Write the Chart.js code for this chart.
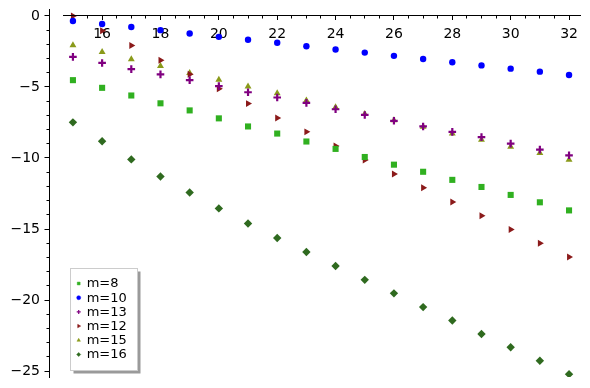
<!DOCTYPE html>
<html>
<head>
<meta charset="utf-8">
<script src="https://cdn.jsdelivr.net/npm/chart.js@4/dist/chart.umd.min.js"></script>
<style>
  html, body { margin: 0; padding: 0; background: #ffffff; }
  #wrap { width: 590px; height: 388px; position: relative; }
</style>
</head>
<body>
<div id="wrap"><canvas id="c" width="590" height="388"></canvas></div>
<script>
// ---- data ----
const xValues = [15, 16, 17, 18, 19, 20, 21, 22, 23, 24, 25, 26, 27, 28, 29, 30, 31, 32];
const m8  = [-4.52, -5.06, -5.60, -6.15, -6.65, -7.21, -7.78, -8.28, -8.84, -9.36, -9.93, -10.47, -10.97, -11.54, -12.04, -12.60, -13.12, -13.69];
const m10 = [-0.35, -0.57, -0.78, -1.00, -1.23, -1.47, -1.68, -1.89, -2.13, -2.36, -2.58, -2.81, -3.03, -3.26, -3.48, -3.71, -3.92, -4.16];
const m13 = [-2.88, -3.31, -3.74, -4.11, -4.52, -4.94, -5.37, -5.74, -6.12, -6.57, -6.97, -7.38, -7.78, -8.16, -8.53, -8.99, -9.41, -9.81];
const m12 = [0.00, -1.04, -2.08, -3.12, -4.11, -5.13, -6.17, -7.18, -8.16, -9.15, -10.14, -11.13, -12.10, -13.10, -14.07, -15.04, -16.00, -16.97];
const m15 = [-2.06, -2.53, -3.05, -3.52, -4.02, -4.49, -4.96, -5.44, -5.96, -6.43, -6.90, -7.35, -7.80, -8.28, -8.72, -9.20, -9.65, -10.12];
const m16 = [-7.49, -8.82, -10.10, -11.30, -12.43, -13.55, -14.61, -15.63, -16.62, -17.61, -18.58, -19.53, -20.50, -21.44, -22.39, -23.33, -24.28, -25.22];
const seriesLabels = ['m=8', 'm=10', 'm=13', 'm=12', 'm=15', 'm=16'];
const xMajorStep = 2, xMinorStep = 0.5, yMajorStep = 5, yMinorStep = 1;

// ---- view ----
const X_MIN = 14.18, X_MAX = 32.41, X_LINE_START = 14.66;
const Y_MIN = -25.42, Y_MAX = 0.49;
const FONT = '"DejaVu Sans", sans-serif';

function pts(ys) { return xValues.map((x, i) => ({ x: x, y: ys[i] })); }
function fmt(v) { return v < 0 ? '\u2212' + Math.abs(v) : String(v); }

const styles = [
  { data: m8,  color: '#30b020', pointStyle: 'rect',     radius: 4.3, rotation: 0,  bw: 0 },
  { data: m10, color: '#0000ff', pointStyle: 'circle',   radius: 3.2, rotation: 0,  bw: 0 },
  { data: m13, color: '#800080', pointStyle: 'cross',    radius: 3.8, rotation: 0,  bw: 2.2 },
  { data: m12, color: '#8b1a1a', pointStyle: 'triangle', radius: 4.0, rotation: 90, bw: 0 },
  { data: m15, color: '#8a9a1a', pointStyle: 'triangle', radius: 4.0, rotation: 0,  bw: 0 },
  { data: m16, color: '#2f6a1f', pointStyle: 'rectRot',  radius: 4.2, rotation: 0,  bw: 0 }
];

const datasets = styles.map((s, i) => ({
  label: seriesLabels[i],
  data: pts(s.data),
  pointStyle: s.pointStyle,
  pointRadius: s.radius,
  pointRotation: s.rotation,
  backgroundColor: s.color,
  borderColor: s.color,
  borderWidth: s.bw,
  pointBorderWidth: s.bw,
  showLine: false
}));

function zeroPad(scale) { scale.paddingLeft = 0; scale.paddingRight = 0; scale.paddingTop = 0; scale.paddingBottom = 0; }

const axisLinePlugin = {
  id: 'axisLine',
  afterDraw(chart) {
    const ctx = chart.ctx;
    const xs = chart.scales.x, ys = chart.scales.y;
    const yPix = Math.round(ys.getPixelForValue(0) - 0.5) + 0.5;
    ctx.save();
    ctx.strokeStyle = '#000000';
    ctx.lineWidth = 1;
    ctx.beginPath();
    ctx.moveTo(xs.getPixelForValue(X_LINE_START), yPix);
    ctx.lineTo(chart.chartArea.right, yPix);
    ctx.stroke();
    ctx.restore();
  }
};

const legendPlugin = {
  id: 'boxLegend',
  afterDraw(chart) {
    const ctx = chart.ctx;
    const a = chart.chartArea;
    const bx = a.left + 21.5, by = 268.5, bw = 67, bh = 102;
    ctx.save();
    ctx.fillStyle = '#9a9a9a';
    ctx.fillRect(bx + 3, by + 3, bw, bh);
    ctx.fillStyle = '#ffffff';
    ctx.fillRect(bx, by, bw, bh);
    ctx.strokeStyle = '#cccccc';
    ctx.lineWidth = 1;
    ctx.strokeRect(bx, by, bw, bh);
    ctx.font = '13px ' + FONT;
    ctx.textBaseline = 'middle';
    ctx.textAlign = 'left';
    chart.data.datasets.forEach((ds, i) => {
      const cy = by + 15 + i * 14.2;
      const mx = bx + 8.2;
      ctx.fillStyle = ds.backgroundColor;
      ctx.strokeStyle = ds.borderColor;
      ctx.lineWidth = ds.pointBorderWidth ? 1.2 : 0.5;
      Chart.helpers.drawPoint(ctx, { pointStyle: ds.pointStyle, rotation: ds.pointRotation, radius: 2, borderWidth: ctx.lineWidth }, mx, cy);
      ctx.fillStyle = '#000000';
      ctx.fillText(ds.label, bx + 16.2, cy + 0.5);
    });
    ctx.restore();
  }
};

new Chart(document.getElementById('c'), {
  type: 'scatter',
  data: { datasets: datasets },
  plugins: [axisLinePlugin, legendPlugin],
  options: {
    responsive: false,
    animation: false,
    events: [],
    layout: { padding: { left: 0, top: 9, right: 9, bottom: 11 } },
    plugins: { legend: { display: false }, tooltip: { enabled: false }, title: { display: false } },
    scales: {
      x: {
        type: 'linear', axis: 'x', position: { y: 0 },
        min: X_MIN, max: X_MAX,
        border: { display: false },
        grid: { drawOnChartArea: false, drawTicks: true, tickLength: 4, tickColor: '#000000', tickWidth: 1 },
        ticks: { stepSize: xMajorStep, includeBounds: false, autoSkip: false, maxRotation: 0, padding: 6, color: '#000000', font: { family: FONT, size: 14 }, callback: v => fmt(v) },
        afterFit: zeroPad
      },
      xMinor: {
        type: 'linear', axis: 'x', position: { y: 0 },
        min: X_MIN, max: X_MAX,
        border: { display: false },
        grid: { drawOnChartArea: false, drawTicks: true, tickLength: 2.5, tickColor: '#000000', tickWidth: 1 },
        ticks: { display: false, stepSize: xMinorStep, includeBounds: false, autoSkip: false },
        afterBuildTicks: s => { s.ticks = s.ticks.filter(t => t.value >= X_LINE_START); },
        afterFit: zeroPad
      },
      y: {
        type: 'linear', position: 'left',
        min: Y_MIN, max: Y_MAX,
        border: { display: true, color: '#000000', width: 1 },
        grid: { drawOnChartArea: false, drawTicks: true, tickLength: 4.5, tickColor: '#000000', tickWidth: 1 },
        ticks: { stepSize: yMajorStep, includeBounds: false, autoSkip: false, padding: 4.5, color: '#000000', font: { family: FONT, size: 14 }, callback: v => fmt(v) },
        afterFit: s => { s.width = 49; zeroPad(s); }
      },
      yMinor: {
        type: 'linear', axis: 'y', position: { x: X_MIN },
        min: Y_MIN, max: Y_MAX,
        border: { display: false },
        grid: { drawOnChartArea: false, drawTicks: true, tickLength: 2.5, tickColor: '#000000', tickWidth: 1 },
        ticks: { display: false, stepSize: yMinorStep, includeBounds: false, autoSkip: false },
        afterFit: zeroPad
      }
    }
  }
});
</script>
</body>
</html>
